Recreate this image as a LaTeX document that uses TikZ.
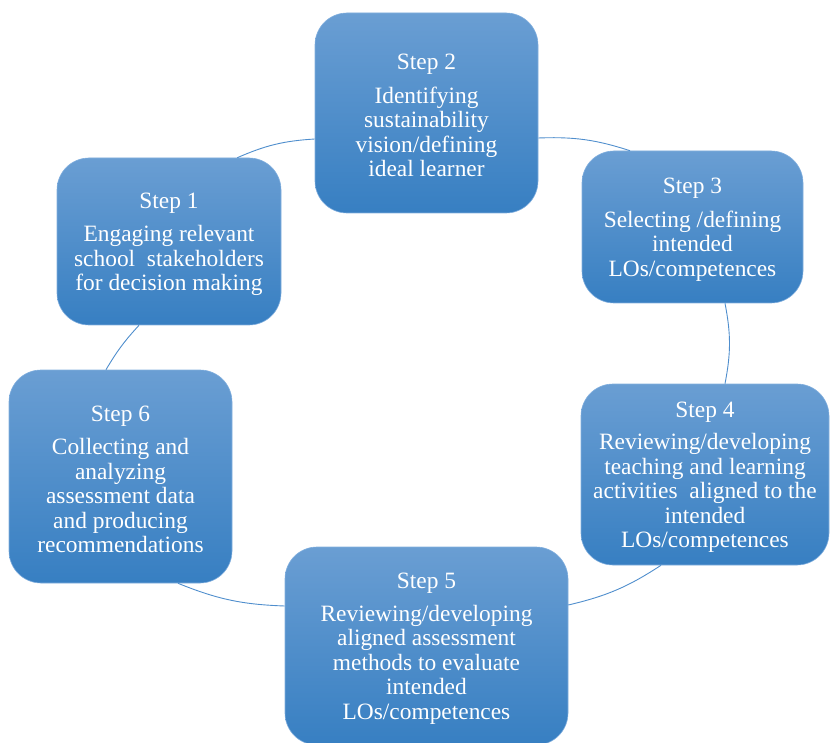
\documentclass[tikz,border=0pt]{standalone}
\usepackage{fontspec}
\setmainfont{Liberation Serif}
\usetikzlibrary{calc}
\definecolor{boxtop}{RGB}{106,158,211}
\definecolor{boxbot}{RGB}{55,127,194}
\definecolor{boxedge}{RGB}{130,175,222}
\definecolor{conn}{RGB}{79,142,205}
\newcommand{\topstrut}{\rule{0pt}{21pt}}
\begin{document}
\begin{tikzpicture}[x=1pt,y=-1pt,
  stepbox/.style={rectangle, rounded corners=32pt, top color=boxtop, bottom color=boxbot,
    draw=boxedge, line width=0.6pt, text=white, align=center,
    font=\fontsize{23.4}{24.5}\selectfont, inner sep=0pt},
  link/.style={draw=conn, line width=0.9pt}]
\useasboundingbox (0,0) rectangle (830,743);
\node[stepbox, minimum width=224pt, minimum height=167pt] (s1) at (169,241.5)
  {\topstrut Step 1\\[9pt]Engaging relevant\\school\ \ stakeholders\\for decision making};
\node[stepbox, minimum width=223pt, minimum height=200pt] (s2) at (426.5,113)
  {\topstrut Step 2\\[9pt]Identifying\\sustainability\\vision/defining\\ideal learner};
\node[stepbox, minimum width=221pt, minimum height=152pt] (s3) at (692.5,227)
  {\topstrut Step 3\\[9pt]Selecting /defining\\intended\\LOs/competences};
\node[stepbox, minimum width=248pt, minimum height=181pt] (s4) at (705,474.5)
  {\topstrut Step 4\\[8pt]Reviewing/developing\\teaching and learning\\activities\ \ aligned to the\\intended\\LOs/competences};
\node[stepbox, minimum width=283pt, minimum height=198pt] (s5) at (426.5,646)
  {\topstrut Step 5\\[8pt]Reviewing/developing\\aligned assessment\\methods to evaluate\\intended\\LOs/competences};
\node[stepbox, minimum width=223pt, minimum height=213pt] (s6) at (120.5,476.5)
  {\topstrut Step 6\\[9pt]Collecting and\\analyzing\\assessment data\\and producing\\recommendations};
\draw[link] ([xshift=-44pt]s1.north east) to[bend left=10] ([yshift=-26pt]s2.west);
\draw[link] ([yshift=-25pt]s2.east) to[bend left=10] ([xshift=-62.5pt]s3.north);
\draw[link] ([xshift=32.5pt]s3.south) to[bend left=11] ([xshift=20pt]s4.north);
\draw[link] ([xshift=-44pt]s4.south) to[bend left=10] ([yshift=41pt]s5.east);
\draw[link] ([yshift=40pt]s5.west) to[bend left=10] ([xshift=57.5pt]s6.south);
\draw[link] ([xshift=-14.5pt]s6.north) to[bend left=6] ([xshift=-30pt]s1.south);
\end{tikzpicture}
\end{document}
